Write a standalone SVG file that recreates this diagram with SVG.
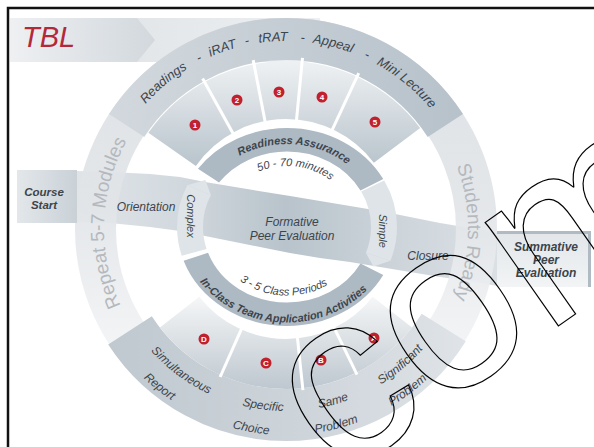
<svg xmlns="http://www.w3.org/2000/svg" width="594" height="447" viewBox="0 0 594 447">
<defs>
<linearGradient id="gBanner" x1="0" y1="0" x2="1" y2="0"><stop offset="0" stop-color="#eef0f2"/><stop offset="1" stop-color="#d2d8dd"/></linearGradient>
<linearGradient id="gBar" x1="0" y1="0" x2="1" y2="0"><stop offset="0" stop-color="#e2e6e9"/><stop offset="1" stop-color="#eef0f2"/></linearGradient>
<linearGradient id="gRing" gradientUnits="userSpaceOnUse" x1="0" y1="18" x2="0" y2="440"><stop offset="0" stop-color="#dce0e4"/><stop offset="0.45" stop-color="#e2e5e8"/><stop offset="0.72" stop-color="#eff1f3"/><stop offset="1" stop-color="#fbfbfc"/></linearGradient>
<linearGradient id="gTop" gradientUnits="userSpaceOnUse" x1="100" y1="0" x2="470" y2="0"><stop offset="0" stop-color="#d3d9de"/><stop offset="1" stop-color="#b6c1ca"/></linearGradient>
<linearGradient id="gSegT" gradientUnits="userSpaceOnUse" x1="0" y1="62" x2="0" y2="165"><stop offset="0" stop-color="#eef1f3"/><stop offset="1" stop-color="#b9c4cc"/></linearGradient>
<linearGradient id="gBot" gradientUnits="userSpaceOnUse" x1="110" y1="0" x2="470" y2="0"><stop offset="0" stop-color="#c0c9d0"/><stop offset="0.5" stop-color="#ccd3d9"/><stop offset="1" stop-color="#e0e4e8"/></linearGradient>
<linearGradient id="gSegB" gradientUnits="userSpaceOnUse" x1="0" y1="295" x2="0" y2="392"><stop offset="0" stop-color="#f6f7f8"/><stop offset="1" stop-color="#bcc6ce"/></linearGradient>
<linearGradient id="gBand" gradientUnits="userSpaceOnUse" x1="75" y1="0" x2="497" y2="0"><stop offset="0" stop-color="#dfe4e8"/><stop offset="0.25" stop-color="#d2d9de"/><stop offset="0.5" stop-color="#b8c3cb"/><stop offset="0.75" stop-color="#ccd4da"/><stop offset="1" stop-color="#dbe0e4"/></linearGradient>
<linearGradient id="gBoxL" x1="0" y1="0" x2="1" y2="0"><stop offset="0" stop-color="#e3e7ea"/><stop offset="1" stop-color="#c9d1d7"/></linearGradient>
<linearGradient id="gBoxR" x1="0" y1="0" x2="0" y2="1"><stop offset="0" stop-color="#e2e6e9"/><stop offset="1" stop-color="#f2f4f5"/></linearGradient>
<path id="pTop" d="M 98,229 A 188 188 0 1 1 474,229 A 188 188 0 1 1 98,229"/>
<path id="pB1" d="M 104,229 A 182 182 0 1 0 468,229 A 182 182 0 1 0 104,229"/>
<path id="pB2" d="M 80,229 A 206 206 0 1 0 492,229 A 206 206 0 1 0 80,229"/>
<path id="pRing" d="M 286,411 A 182 182 0 1 1 286,47 A 182 182 0 1 1 286,411"/>
<path id="pRA" d="M 195,227 A 92 83 0 1 1 379,227 A 92 83 0 1 1 195,227"/>
<path id="pMin" d="M 219,227 A 68 61 0 1 1 355,227 A 68 61 0 1 1 219,227"/>
<path id="pPer" d="M 211,227 A 76 68.5 0 1 0 363,227 A 76 68.5 0 1 0 211,227"/>
<path id="pIC" d="M 181,227 A 106 95.5 0 1 0 393,227 A 106 95.5 0 1 0 181,227"/>
</defs>
<style>
.f{font-family:"Liberation Sans",Arial,sans-serif;font-style:italic;fill:#3c444c}
.b{font-weight:bold}
.num{font-family:"Liberation Sans",Arial,sans-serif;font-weight:bold;font-size:8px;fill:#fff;text-anchor:middle}
.dot{fill:#c1202f}
.div{stroke:#fff;stroke-width:3}
.ring{font-family:"Liberation Sans",Arial,sans-serif;font-size:19px;fill:#b4b9be;text-anchor:middle}
.mid{text-anchor:middle}
</style>
<rect width="594" height="447" fill="#fff"/>

<g id="title">
<rect x="130" y="18" width="190" height="44" fill="url(#gBar)"/>
<path d="M10,18 L137,18 L155,40 L137,62 L10,62 Z" fill="url(#gBanner)"/>
<text x="22" y="47" font-family="Liberation Sans, Arial, sans-serif" font-style="italic" font-size="29" fill="#b3293a">TBL</text>
</g>

<g id="band">
<path d="M77,171 L110,172 L150,174 L180,177 L205,182 L235,187 L265,192 L290,196 L320,201 L350,206 L380,211 L410,217 L440,223 L470,228 L497,232 L497,286 L470,281 L440,277 L410,272 L380,267 L350,262 L320,258 L290,253 L265,248 L235,242 L205,236 L180,231 L150,227 L110,223 L77,222 Z" fill="url(#gBand)"/>
</g>

<g id="outer-ring">
<circle cx="286" cy="229" r="190.5" fill="none" stroke="url(#gRing)" stroke-width="41" opacity="0.93"/>
<text class="ring"><textPath href="#pRing" startOffset="25.56%">Repeat 5-7 Modules</textPath></text>
<text class="ring"><textPath href="#pRing" startOffset="75.28%">Students Ready</textPath></text>
</g>

<g id="course-start">
<rect x="17" y="170" width="60" height="53" fill="url(#gBoxL)"/>
<text class="f b mid" font-size="11.5" x="44" y="196">Course</text>
<text class="f b mid" font-size="11.5" x="44" y="209">Start</text>
</g>

<g id="summative">
<rect x="497" y="231" width="94" height="56" fill="url(#gBoxR)"/>
<path d="M497,232.5 H589.5 V287" fill="none" stroke="#b0bac3" stroke-width="3"/>
<text class="f b mid" font-size="12" x="546" y="251">Summative</text>
<text class="f b mid" font-size="12" x="546" y="264">Peer</text>
<text class="f b mid" font-size="12" x="546" y="277">Evaluation</text>
</g>

<g id="readiness-top">
<circle cx="286" cy="229" r="190" fill="none" stroke="url(#gTop)" stroke-width="42" pathLength="360" stroke-dasharray="114 246" stroke-dashoffset="147"/>
<circle cx="286" cy="229" r="139" fill="none" stroke="url(#gSegT)" stroke-width="58" pathLength="360" stroke-dasharray="108 252" stroke-dashoffset="145"/>
<line class="div" x1="392" y1="229" x2="458" y2="229" transform="rotate(-119 286 229)"/>
<line class="div" x1="392" y1="229" x2="458" y2="229" transform="rotate(-101 286 229)"/>
<line class="div" x1="392" y1="229" x2="458" y2="229" transform="rotate(-84.5 286 229)"/>
<line class="div" x1="392" y1="229" x2="458" y2="229" transform="rotate(-65 286 229)"/>
<g class="f" font-size="13">
<text><textPath href="#pTop" startOffset="13.89%" text-anchor="middle">Readings</textPath></text>
<text><textPath href="#pTop" startOffset="17.5%" text-anchor="middle">-</textPath></text>
<text><textPath href="#pTop" startOffset="19.61%" text-anchor="middle">iRAT</textPath></text>
<text><textPath href="#pTop" startOffset="21.72%" text-anchor="middle">-</textPath></text>
<text><textPath href="#pTop" startOffset="23.92%" text-anchor="middle">tRAT</textPath></text>
<text><textPath href="#pTop" startOffset="26.39%" text-anchor="middle">-</textPath></text>
<text><textPath href="#pTop" startOffset="28.97%" text-anchor="middle">Appeal</textPath></text>
<text><textPath href="#pTop" startOffset="31.94%" text-anchor="middle">-</textPath></text>
<text><textPath href="#pTop" startOffset="35.97%" text-anchor="middle">Mini Lecture</textPath></text>
</g>
<g id="step1"><circle class="dot" cx="195" cy="125" r="5.5"/><text class="num" x="195" y="128">1</text></g>
<g id="step2"><circle class="dot" cx="237" cy="100" r="5.5"/><text class="num" x="237" y="103">2</text></g>
<g id="step3"><circle class="dot" cx="279" cy="92" r="5.5"/><text class="num" x="279" y="95">3</text></g>
<g id="step4"><circle class="dot" cx="322" cy="97" r="5.5"/><text class="num" x="322" y="100">4</text></g>
<g id="step5"><circle class="dot" cx="375" cy="122" r="5.5"/><text class="num" x="375" y="125">5</text></g>
</g>

<g id="application-bottom">
<circle cx="286" cy="229" r="186" fill="none" stroke="url(#gBot)" stroke-width="52" pathLength="360" stroke-dasharray="115 245" stroke-dashoffset="328"/>
<circle cx="286" cy="229" r="135" fill="none" stroke="url(#gSegB)" stroke-width="50" pathLength="360" stroke-dasharray="104 256" stroke-dashoffset="322"/>
<line class="div" x1="394" y1="229" x2="448" y2="229" transform="rotate(64 286 229)"/>
<line class="div" x1="394" y1="229" x2="448" y2="229" transform="rotate(84 286 229)"/>
<line class="div" x1="394" y1="229" x2="448" y2="229" transform="rotate(114 286 229)"/>
<g class="f" font-size="12" fill="#454d55">
<text><textPath href="#pB1" startOffset="14.86%" text-anchor="middle">Simultaneous</textPath></text>
<text><textPath href="#pB2" startOffset="14.25%" text-anchor="middle">Report</textPath></text>
<text><textPath href="#pB1" startOffset="22.94%" text-anchor="middle">Specific</textPath></text>
<text><textPath href="#pB2" startOffset="22.25%" text-anchor="middle">Choice</textPath></text>
<text><textPath href="#pB1" startOffset="29.25%" text-anchor="middle">Same</textPath></text>
<text><textPath href="#pB2" startOffset="29%" text-anchor="middle">Problem</textPath></text>
<text><textPath href="#pB1" startOffset="36.14%" text-anchor="middle">Significant</textPath></text>
<text><textPath href="#pB2" startOffset="35.28%" text-anchor="middle">Problem</textPath></text>
</g>
<g id="stepD"><circle class="dot" cx="204" cy="339" r="5.5"/><text class="num" x="204" y="342">D</text></g>
<g id="stepC"><circle class="dot" cx="266" cy="363" r="5.5"/><text class="num" x="266" y="366">C</text></g>
<g id="stepB"><circle class="dot" cx="321" cy="360" r="5.5"/><text class="num" x="321" y="363">B</text></g>
<g id="stepA"><circle class="dot" cx="374" cy="338" r="5.5"/><text class="num" x="374" y="341">A</text></g>
</g>

<g id="inner-cycle">
<g transform="translate(287,227) scale(1,0.9)">
<circle r="97" fill="none" stroke="#adb9c3" stroke-width="26" pathLength="360" stroke-dasharray="115 245" stroke-dashoffset="144"/>
<circle r="97" fill="none" stroke="#adb9c3" stroke-width="26" pathLength="360" stroke-dasharray="131 229" stroke-dashoffset="331"/>
<g id="simple-piece">
<circle r="97" fill="none" stroke="#dfe4e8" stroke-width="26" pathLength="360" stroke-dasharray="48 312" stroke-dashoffset="28"/>
<polygon points="103.4,37.6 86.4,44 78.9,28.7" fill="#dfe4e8"/>
</g>
<g id="complex-piece">
<circle r="97" fill="none" stroke="#dfe4e8" stroke-width="26" pathLength="360" stroke-dasharray="42 318" stroke-dashoffset="197"/>
<polygon points="-99.7,-46.5 -81.7,-52.3 -76.1,-35.5" fill="#dfe4e8"/>
</g>
</g>
<text class="f b" font-size="11" fill="#38414a"><textPath href="#pRA" startOffset="26.39%" text-anchor="middle">Readiness Assurance</textPath></text>
<text class="f" font-size="11"><textPath href="#pMin" startOffset="27.2%" text-anchor="middle">50 - 70 minutes</textPath></text>
<text class="f" font-size="11"><textPath href="#pPer" startOffset="24.17%" text-anchor="middle">3 - 5 Class Periods</textPath></text>
<text class="f b" font-size="11" fill="#38414a"><textPath href="#pIC" startOffset="24.17%" text-anchor="middle">In-Class Team Application Activities</textPath></text>
<text class="f mid" font-size="11" transform="translate(191,216) rotate(90)" y="4">Complex</text>
<text class="f mid" font-size="11" transform="translate(383,231) rotate(90)" y="4">Simple</text>
</g>

<g id="band-labels">
<text class="f mid" font-size="12" x="146" y="211">Orientation</text>
<text class="f mid" font-size="12" x="292" y="226">Formative</text>
<text class="f mid" font-size="12" x="292" y="240">Peer Evaluation</text>
<text class="f mid" font-size="12" x="428" y="260">Closure</text>
</g>

<g id="watermark">
<text x="337" y="481" transform="rotate(-35 337 481)" font-family="Liberation Sans, Arial, sans-serif" font-size="240" fill="none" stroke="#000" stroke-width="1.2">com</text>
</g>

<rect x="8" y="8" width="640" height="480" fill="none" stroke="#111" stroke-width="2.5"/>
</svg>
